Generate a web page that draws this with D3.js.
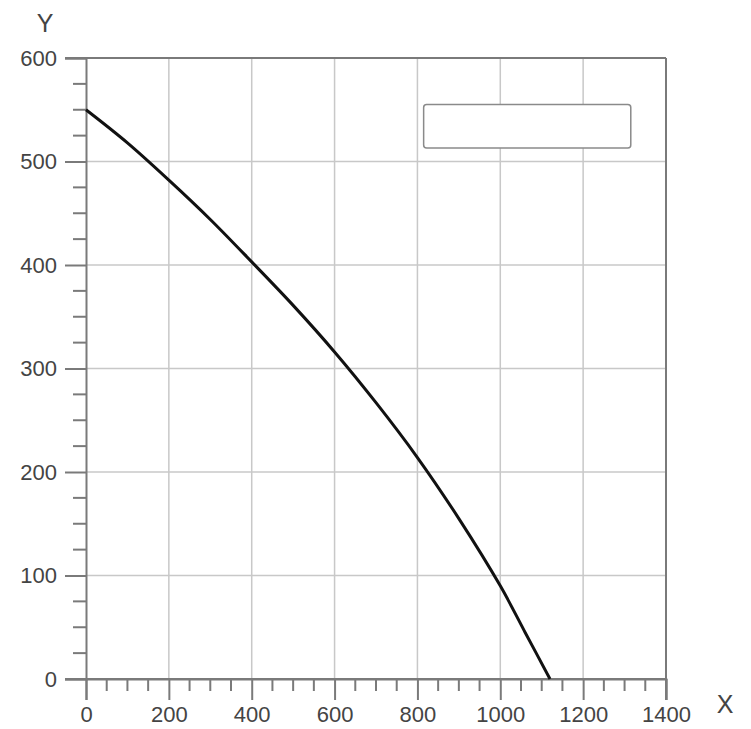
<!DOCTYPE html>
<html><head><meta charset="utf-8">
<script src="https://cdn.jsdelivr.net/npm/d3@7"></script>
<style>body{margin:0;background:#fff;}svg{display:block;}</style>
</head><body>
<svg id="c" width="751" height="729"></svg>
<script>
const xTicks = [0,200,400,600,800,1000,1200,1400];
const yTicks = [0,100,200,300,400,500,600];
const curveX = [0,100,200,300,400,500,600,700,800,900,1000,1060,1120];
const curveY = [550,518,482,444,403,361,316,267,214,155,90,45,0];

const svg = d3.select("#c");
const L=86,R=666,T=58,B=679;
const x = d3.scaleLinear().domain([0,1400]).range([L,R]);
const y = d3.scaleLinear().domain([0,600]).range([B,T]);
const axisCol="#7a7a7a", gridCol="#c8c8c8", txt="#444";
const font="Liberation Sans, Arial, sans-serif";

// grid
svg.append("g").selectAll("line").data(xTicks.slice(1,-1)).join("line")
  .attr("x1",d=>x(d)).attr("x2",d=>x(d)).attr("y1",T).attr("y2",B)
  .attr("stroke",gridCol).attr("stroke-width",1.5);
svg.append("g").selectAll("line").data(yTicks.slice(1,-1)).join("line")
  .attr("x1",L).attr("x2",R).attr("y1",d=>y(d)).attr("y2",d=>y(d))
  .attr("stroke",gridCol).attr("stroke-width",1.5);

// frame top and right
svg.append("line").attr("x1",L-21).attr("x2",R).attr("y1",T).attr("y2",T).attr("stroke",axisCol).attr("stroke-width",2);
svg.append("line").attr("x1",R).attr("x2",R).attr("y1",T).attr("y2",B+21).attr("stroke",axisCol).attr("stroke-width",2);

// y axis
const yAxis = d3.axisLeft(y).tickValues(yTicks).tickSize(21).tickPadding(8).tickFormat(d3.format("d"));
const gy = svg.append("g").attr("transform",`translate(${L},0)`).call(yAxis);
const yMinor = d3.range(0,601,25).filter(v=>v%100!==0);
svg.append("g").selectAll("line").data(yMinor).join("line")
  .attr("x1",L-13).attr("x2",L).attr("y1",d=>y(d)).attr("y2",d=>y(d))
  .attr("stroke",axisCol).attr("stroke-width",2);

// x axis
const xAxis = d3.axisBottom(x).tickValues(xTicks).tickSize(21).tickPadding(6).tickFormat(d3.format("d"));
const gx = svg.append("g").attr("transform",`translate(0,${B})`).call(xAxis);
const xMinor = d3.range(0,1401,50).filter(v=>v%200!==0);
svg.append("g").selectAll("line").data(xMinor).join("line")
  .attr("x1",d=>x(d)).attr("x2",d=>x(d)).attr("y1",B).attr("y2",B+12)
  .attr("stroke",axisCol).attr("stroke-width",2);
svg.append("line").attr("x1",L-21).attr("x2",R).attr("y1",B).attr("y2",B).attr("stroke",axisCol).attr("stroke-width",2);

[gx,gy].forEach(g=>{
  g.attr("font-size",null).attr("font-family",null);
  g.select(".domain").attr("stroke",axisCol).attr("stroke-width",2);
  g.selectAll(".tick line").attr("stroke",axisCol).attr("stroke-width",2);
  g.selectAll(".tick text").attr("fill",txt).style("font-family",font).style("font-size","22px");
});

// legend box
svg.append("rect").attr("x",x(815)).attr("y",y(555)).attr("width",x(1315)-x(815)).attr("height",y(513)-y(555))
  .attr("rx",3).attr("fill","#fff").attr("stroke","#8a8a8a").attr("stroke-width",1.5);

// curve
const pts = curveX.map((d,i)=>[d,curveY[i]]);
svg.append("path").datum(pts)
  .attr("d",d3.line().x(d=>x(d[0])).y(d=>y(d[1])).curve(d3.curveCatmullRom.alpha(0.5)))
  .attr("fill","none").attr("stroke","#111").attr("stroke-width",3);

// axis titles
svg.append("text").attr("x",45).attr("y",32).attr("text-anchor","middle").attr("fill",txt)
  .style("font-family",font).style("font-size","25px").text("Y");
svg.append("text").attr("x",725).attr("y",713).attr("text-anchor","middle").attr("fill",txt)
  .style("font-family",font).style("font-size","25px").text("X");
</script>
</body></html>
